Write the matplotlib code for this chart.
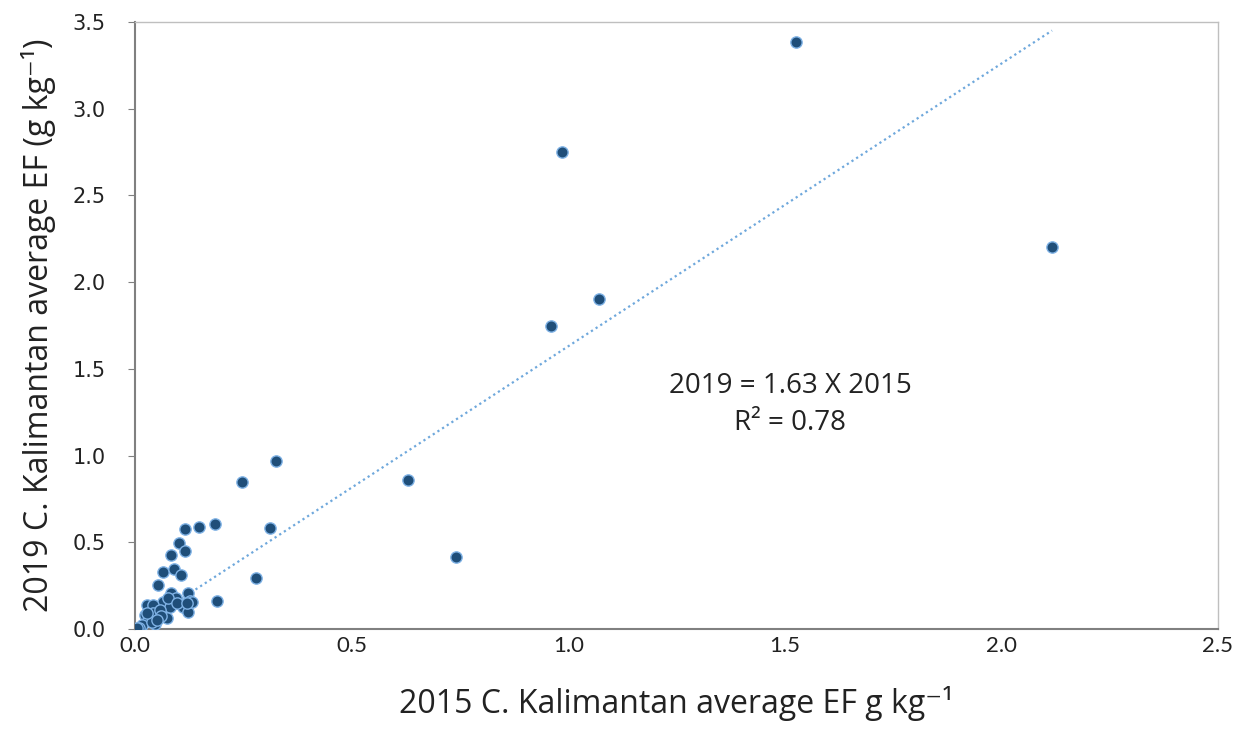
import matplotlib
matplotlib.use("Agg")
import matplotlib.pyplot as plt
import numpy as np

x2015 = [1.526, 0.986, 2.117, 1.071, 0.960, 0.325, 0.248, 0.630, 0.741, 0.312,
         0.279, 0.190, 0.185, 0.148, 0.115, 0.102, 0.115, 0.082, 0.065, 0.090,
         0.107, 0.053, 0.082, 0.123, 0.095, 0.127, 0.065, 0.110, 0.027, 0.042,
         0.081, 0.123, 0.073, 0.042, 0.023, 0.031, 0.046, 0.015, 0.000, 0.010,
         0.058, 0.061, 0.077, 0.131, 0.096, 0.119, 0.038, 0.050, 0.005, 0.027]
y2019 = [3.385, 2.748, 2.203, 1.903, 1.747, 0.970, 0.848, 0.859, 0.415, 0.584,
         0.292, 0.161, 0.605, 0.586, 0.577, 0.494, 0.450, 0.425, 0.330, 0.344,
         0.313, 0.254, 0.206, 0.206, 0.181, 0.161, 0.154, 0.129, 0.136, 0.136,
         0.125, 0.095, 0.062, 0.090, 0.081, 0.052, 0.029, 0.023, 0.000, 0.006,
         0.110, 0.075, 0.177, 0.158, 0.148, 0.148, 0.042, 0.052, 0.003, 0.090]
slope = 1.63
r2 = 0.78
xticks = [0.0, 0.5, 1.0, 1.5, 2.0, 2.5]
yticks = [0.0, 0.5, 1.0, 1.5, 2.0, 2.5, 3.0, 3.5]

fig = plt.figure(figsize=(12.47, 7.51), dpi=100)
ax = fig.add_axes([0.1083, 0.1625, 0.8684, 0.8082])

xl = np.array([0.0, max(x2015)])
ax.plot(xl, slope * xl, linestyle=(0, (1, 1.5)), color="#6FA8DC", lw=1.6, zorder=2)
ax.scatter(x2015, y2019, s=66, c="#1F4E79", edgecolors="#7FB2E5", linewidths=1.0, zorder=3)

ax.set_xlim(0, 2.5)
ax.set_ylim(0, 3.5)
ax.set_xticks(xticks)
ax.set_yticks(yticks)
ax.set_xticklabels([f"{v:.1f}" for v in xticks], fontsize=16,
                   family=["Liberation Sans Narrow", "Lato", "DejaVu Sans"], color="#222222")
ax.set_yticklabels([f"{v:.1f}" for v in yticks], fontsize=15, family="DejaVu Sans", color="#222222")
ax.tick_params(axis="x", length=0, pad=5)
ax.tick_params(axis="y", length=5, direction="out", color="#808080", pad=16)
for s in ["top", "right"]:
    ax.spines[s].set_color("#BFBFBF")
    ax.spines[s].set_linewidth(1.0)
for s in ["left", "bottom"]:
    ax.spines[s].set_color("#808080")
    ax.spines[s].set_linewidth(1.5)

fam = ["Open Sans", "DejaVu Sans"]
ax.set_xlabel("2015 C. Kalimantan average EF g kg⁻¹", fontsize=23, family=fam, labelpad=22, color="#222222")
ax.set_ylabel("2019 C. Kalimantan average EF (g kg⁻¹)", fontsize=23, family=fam, labelpad=12, color="#222222")

ax.text(1.512, 1.40, f"2019 = {slope:.2f} X 2015", ha="center", va="center", fontsize=20, family=fam, color="#222222")
ax.text(1.512, 1.19, f"R² = {r2:.2f}", ha="center", va="center", fontsize=20, family=fam, color="#222222")

fig.savefig("out.png", dpi=100)
